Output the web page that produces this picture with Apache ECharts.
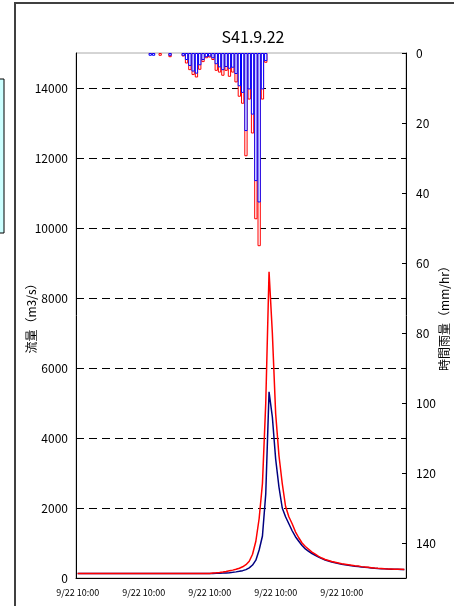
<!DOCTYPE html>
<html>
<head>
<meta charset="utf-8">
<script src="https://cdn.jsdelivr.net/npm/echarts@6.0.0/dist/echarts.min.js"></script>
<style>
  html, body { margin: 0; padding: 0; background: #fff; }
  #main { width: 454px; height: 606px; }
</style>
</head>
<body>
<div id="main"></div>
<script>
// 時刻（100ステップ）
const hours = [];
for (let i = 0; i < 100; i++) hours.push(i);
const tickLabels = ['9/22 10:00', '9/22 10:00', '9/22 10:00', '9/22 10:00', '9/22 10:00'];

// 時間雨量 (mm/hr)
const rainRed = [
  0, 0, 0, 0, 0, 0, 0, 0, 0, 0,
  0, 0, 0, 0, 0, 0, 0, 0, 0, 0,
  0, 0, 0.5, 0.5, 0, 0.8, 0, 0, 1.2, 0,
  0, 0, 1.0, 3.0, 4.9, 6.3, 7.0, 4.8, 2.6, 1.5,
  1.3, 2.0, 5.1, 5.6, 6.5, 5.1, 6.8, 5.6, 8.4, 12.5,
  14.5, 29.5, 13.3, 23.0, 47.5, 55.2, 13.3, 2.8, 0, 0,
  0, 0, 0, 0, 0, 0, 0, 0, 0, 0,
  0, 0, 0, 0, 0, 0, 0, 0, 0, 0,
  0, 0, 0, 0, 0, 0, 0, 0, 0, 0,
  0, 0, 0, 0, 0, 0, 0, 0, 0, 0
];
const rainBlue = [
  0, 0, 0, 0, 0, 0, 0, 0, 0, 0,
  0, 0, 0, 0, 0, 0, 0, 0, 0, 0,
  0, 0, 0.8, 0.8, 0, 0, 0, 0, 0.8, 0,
  0, 0, 0.8, 2.0, 3.7, 5.3, 5.9, 3.5, 2.0, 1.2,
  1.0, 1.5, 3.2, 4.1, 4.9, 4.0, 4.5, 4.2, 6.0, 9.5,
  11.4, 22.3, 10.4, 17.6, 36.6, 42.7, 10.4, 2.3, 0, 0,
  0, 0, 0, 0, 0, 0, 0, 0, 0, 0,
  0, 0, 0, 0, 0, 0, 0, 0, 0, 0,
  0, 0, 0, 0, 0, 0, 0, 0, 0, 0,
  0, 0, 0, 0, 0, 0, 0, 0, 0, 0
];

// 流量 (m3/s)
const flowRed = [
  130, 130, 130, 130, 130, 130, 130, 130, 130, 130,
  130, 130, 130, 130, 130, 130, 130, 130, 130, 130,
  130, 130, 130, 130, 130, 130, 130, 130, 130, 130,
  130, 130, 130, 130, 130, 130, 130, 130, 130, 130,
  130, 140, 148, 158, 170, 185, 205, 225, 250, 280,
  320, 380, 480, 680, 1050, 1700, 2700, 5000, 8750, 7000,
  4700, 3500, 2700, 2050, 1750, 1550, 1320, 1150, 1000, 900,
  820, 740, 680, 620, 570, 530, 500, 470, 450, 430,
  410, 395, 380, 365, 350, 340, 325, 315, 305, 295,
  285, 278, 272, 265, 260, 256, 252, 250, 248, 246
];
const flowBlue = [
  130, 130, 130, 130, 130, 130, 130, 130, 130, 130,
  130, 130, 130, 130, 130, 130, 130, 130, 130, 130,
  130, 130, 130, 130, 130, 130, 130, 130, 130, 130,
  130, 130, 130, 130, 130, 130, 130, 130, 130, 130,
  130, 130, 133, 136, 140, 145, 152, 162, 175, 190,
  210, 240, 290, 370, 510, 800, 1200, 2400, 5320, 4600,
  3400, 2600, 2000, 1750, 1550, 1350, 1180, 1050, 930, 830,
  760, 700, 650, 600, 555, 515, 485, 455, 435, 415,
  395, 380, 365, 350, 338, 328, 316, 306, 297, 288,
  280, 273, 267, 261, 256, 252, 249, 247, 245, 244
];

const myChart = echarts.init(document.getElementById('main'));

const option = {
  animation: false,
  textStyle: { fontFamily: 'Noto Sans CJK JP' },
  title: {
    text: 'S41.9.22',
    left: 248,
    top: 24,
    textAlign: 'center',
    textStyle: { fontSize: 16, fontWeight: 'normal', color: '#000', fontFamily: 'Noto Sans CJK JP' }
  },
  graphic: [
    {
      type: 'rect',
      shape: { x: 15, y: 3, width: 500, height: 700 },
      style: { fill: 'none', stroke: '#404040', lineWidth: 2 }
    },
    {
      type: 'rect',
      shape: { x: -10, y: 79, width: 14, height: 154 },
      style: { fill: '#ccffff', stroke: '#000', lineWidth: 1 }
    }
  ],
  grid: {
    left: 76,
    right: 48,
    top: 53,
    bottom: 28,
    outerBoundsMode: 'none',
    containLabel: false,
    show: true,
    borderColor: '#aaa',
    borderWidth: 1
  },
  xAxis: {
    type: 'category',
    data: hours,
    boundaryGap: true,
    axisLine: { lineStyle: { color: '#000', width: 1 } },
    axisTick: { inside: true, length: 4, interval: 9, lineStyle: { color: '#000' } },
    axisLabel: {
      interval: 19,
      fontSize: 9,
      color: '#000',
      margin: 10,
      formatter: function (v, idx) {
        return tickLabels[Math.floor(idx / 20)] || '';
      }
    },
    splitLine: { show: false }
  },
  yAxis: [
    {
      type: 'value',
      min: 0,
      max: 15000,
      interval: 2000,
      name: '流量（m3/s）',
      nameLocation: 'middle',
      nameGap: 39,
      nameMoveOverlap: false,
      nameTextStyle: { fontSize: 12, color: '#000' },
      axisLine: { show: true, lineStyle: { color: '#000' } },
      axisTick: { show: true, inside: true, length: 4, lineStyle: { color: '#000' } },
      axisLabel: {
        fontSize: 12, color: '#000', margin: 8, showMaxLabel: false,
        formatter: function (v) { return String(v); }
      },
      splitLine: {
        show: true,
        showMaxLine: false,
        lineStyle: { color: '#000', type: [8, 5], width: 1 }
      }
    },
    {
      type: 'value',
      position: 'right',
      inverse: true,
      min: 0,
      max: 150,
      interval: 20,
      name: '時間雨量（mm/hr）',
      nameLocation: 'middle',
      nameGap: 32,
      nameMoveOverlap: false,
      nameTextStyle: { fontSize: 12, color: '#000' },
      axisLine: { show: true, lineStyle: { color: '#000' } },
      axisTick: { show: true, inside: true, length: 4, lineStyle: { color: '#000' } },
      axisLabel: {
        fontSize: 12, color: '#000', margin: 10, showMaxLabel: false,
        formatter: function (v) { return String(v); }
      },
      splitLine: { show: false }
    }
  ],
  series: [
    {
      name: 'rainRed',
      type: 'bar',
      yAxisIndex: 1,
      barCategoryGap: '0%',
      barGap: '-100%',
      itemStyle: { color: '#fff', borderColor: '#ff0000', borderWidth: 1 },
      data: rainRed.map(v => v || '-')
    },
    {
      name: 'rainBlue',
      type: 'bar',
      yAxisIndex: 1,
      barCategoryGap: '0%',
      barGap: '-100%',
      itemStyle: { color: '#fff', borderColor: '#0000ff', borderWidth: 1 },
      data: rainBlue.map(v => v || '-')
    },
    {
      name: 'flowBlue',
      type: 'line',
      yAxisIndex: 0,
      symbol: 'none',
      lineStyle: { color: '#000080', width: 1.5 },
      data: flowBlue
    },
    {
      name: 'flowRed',
      type: 'line',
      yAxisIndex: 0,
      symbol: 'none',
      lineStyle: { color: '#ff0000', width: 1.5 },
      data: flowRed
    }
  ]
};

myChart.setOption(option);
</script>
</body>
</html>
